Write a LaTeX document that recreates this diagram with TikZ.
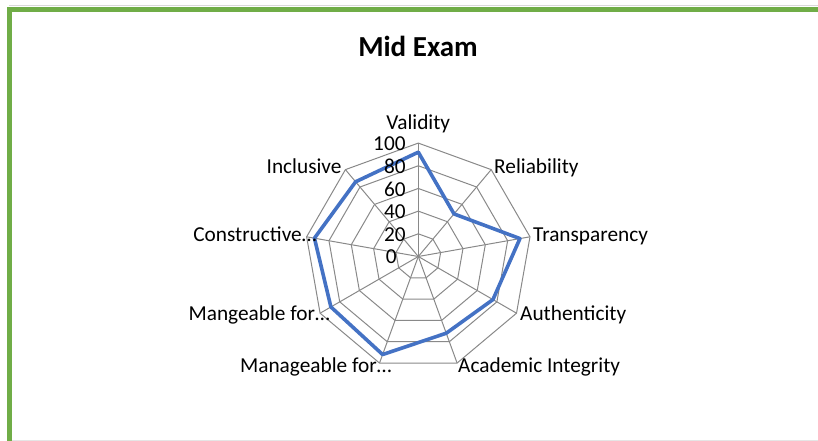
\documentclass[tikz,border=0pt]{standalone}
\usepackage{fontspec}
\setmainfont{Carlito}
\definecolor{framegreen}{HTML}{70AD47}
\definecolor{seriesblue}{HTML}{4472C4}
\definecolor{gridgray}{HTML}{898989}
\begin{document}
\begin{tikzpicture}[x=1pt,y=1pt,
  lbl/.style={font=\fontsize{21.3}{25}\selectfont,inner sep=0pt},
  gridline/.style={draw=gridgray,line width=1pt}]
\useasboundingbox (0,0) rectangle (818,441);

% frame
\draw[line width=0.8pt,color=black!10] (12,1) -- (818,1);
\draw[line width=0.6pt,color=black!15] (9.3,435.5) -- (818,435.5);
\draw[line width=5pt,color=framegreen] (9.3,0) -- (9.3,431.7) -- (818,431.7);

% title
\node[font=\fontsize{29}{33}\selectfont\bfseries,inner sep=0pt,anchor=base] (title) at (418,384.3) {Mid Exam};

\begin{scope}[shift={(418.3,184.5)}]
% grid
\foreach \r in {22.68,45.36,68.04,90.72,113.4}
  \draw[gridline] (90:\r) \foreach \a in {50,10,-30,-70,-110,-150,-190,-230} { -- (\a:\r) } -- cycle;
\foreach \a in {90,50,10,-30,-70,-110,-150,-190,-230}
  \draw[gridline] (0,0) -- (\a:113.4);

% series
\draw[seriesblue,line width=3.6pt,line join=round]
  (90:{92*1.134}) -- (50:{49*1.134}) -- (10:{91*1.134}) -- (-30:{76*1.134})
  -- (-70:{72*1.134}) -- (-110:{92*1.134}) -- (-150:{89*1.134})
  -- (-190:{93*1.134}) -- (-230:{86*1.134}) -- cycle;

% ticks
\foreach \v in {20,40,...,100}
  \node[lbl,anchor=base east] (tick\v) at (-12.5,{\v*1.134-7.8}) {\v};
\node[lbl,anchor=base east] (tick0) at (-21.5,-7.5) {0};

% axis labels
\node[lbl,anchor=base] (validity) at (0,126.5) {Validity};
\node[lbl,anchor=base west] (reliability) at (75.7,83.2) {Reliability};
\node[lbl,anchor=base west] (transparency) at (114.7,14.8) {Transparency};
\node[lbl,anchor=base west] (authenticity) at (101.7,-64.2) {Authenticity};
\node[lbl,anchor=base west] (integrity) at (39.7,-116.2) {Academic Integrity};
\node[lbl,anchor=base east] (manageable) at (-26.6,-116.2) {Manageable for…};
\node[lbl,anchor=base east] (mangeable) at (-88.3,-64.2) {Mangeable for…};
\node[lbl,anchor=base east] (constructive) at (-101.6,14.8) {Constructive…};
\node[lbl,anchor=base east] (inclusive) at (-76.6,83.2) {Inclusive};
\end{scope}
\end{tikzpicture}
\end{document}
